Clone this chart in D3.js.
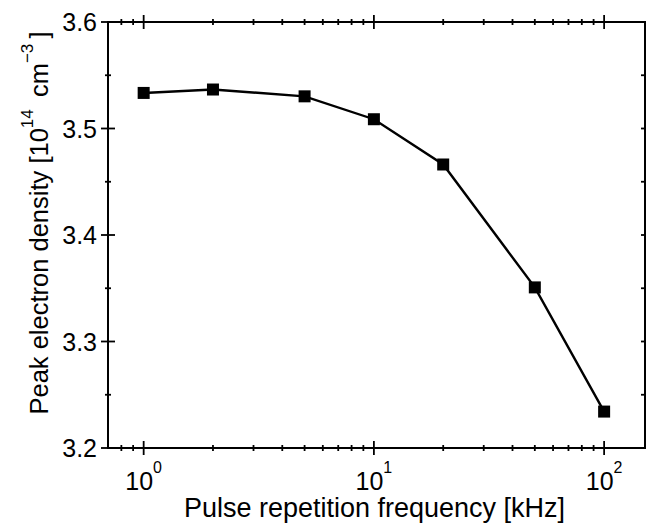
<!DOCTYPE html>
<html>
<head>
<meta charset="utf-8">
<script src="https://cdn.jsdelivr.net/npm/d3@7"></script>
<style>
  body { margin: 0; background: #fff; }
  text { font-family: "Liberation Sans", Arial, sans-serif; fill: #000; }
</style>
</head>
<body>
<div id="canvas"></div>
<script>
// --- data
var freq = [1, 2, 5, 10, 20, 50, 100];          // kHz
var density = [3.5334, 3.5366, 3.5302, 3.5087, 3.4662, 3.3508, 3.2342]; // 1e14 cm^-3
var yMajor = [3.2, 3.3, 3.4, 3.5, 3.6];
var xMajor = [1, 10, 100];
var xExp = ['0', '1', '2'];

// --- margin convention
var W = 647, H = 526;
var M = {top: 22, right: 2, bottom: 78, left: 108};
var w = W - M.left - M.right,
    h = H - M.top - M.bottom;

var svg = d3.select('#canvas').append('svg')
  .attr('width', W)
  .attr('height', H);

var plot = svg.append('g')
  .attr('transform', 'translate(' + M.left + ',' + M.top + ')');

// --- scales
var x = d3.scaleLog().domain([0.7, 150.5]).range([0, w]);
var y = d3.scaleLinear().domain([3.2, 3.6]).range([h, 0]);

var xMinor = x.ticks().filter(function(d) { return xMajor.indexOf(d) < 0 && x(d) > 1; });
var yMinor = d3.range(3.25, 3.6, 0.1);
var yRight = d3.range(3.25, 3.6, 0.05);

// frame
plot.append('rect')
  .attr('width', w).attr('height', h)
  .attr('fill', 'none').attr('stroke', '#000').attr('stroke-width', 2);

var ticks = plot.append('g').attr('stroke', '#000').attr('stroke-width', 1.8);

// bottom + top ticks (crossing the frame line)
[h, 0].forEach(function(y0) {
  ticks.selectAll(null).data(xMajor).enter().append('line')
    .attr('x1', function(d) { return x(d); }).attr('x2', function(d) { return x(d); })
    .attr('y1', y0 - 7).attr('y2', y0 + 7);
  ticks.selectAll(null).data(xMinor).enter().append('line')
    .attr('x1', function(d) { return x(d); }).attr('x2', function(d) { return x(d); })
    .attr('y1', y0 - 3).attr('y2', y0 + 3);
});

// left ticks
ticks.selectAll(null).data(yMajor).enter().append('line')
  .attr('x1', -7).attr('x2', 7)
  .attr('y1', function(d) { return y(d); }).attr('y2', function(d) { return y(d); });
ticks.selectAll(null).data(yMinor).enter().append('line')
  .attr('x1', -3).attr('x2', 3)
  .attr('y1', function(d) { return y(d); }).attr('y2', function(d) { return y(d); });

// right ticks (inward only)
ticks.selectAll(null).data(yRight).enter().append('line')
  .attr('x1', w - 4).attr('x2', w)
  .attr('y1', function(d) { return y(d); }).attr('y2', function(d) { return y(d); });

// y tick labels
plot.selectAll('.ylab').data(yMajor).enter().append('text')
  .attr('class', 'ylab')
  .attr('x', -11)
  .attr('y', function(d) { return y(d); })
  .attr('dy', '0.36em')
  .attr('text-anchor', 'end')
  .style('font-size', '25px')
  .text(function(d) { return d.toFixed(1); });

// x tick labels 10^n
var xl = plot.selectAll('.xlab').data(xMajor).enter().append('text')
  .attr('class', 'xlab')
  .attr('x', function(d) { return x(d); })
  .attr('y', h + 42)
  .attr('text-anchor', 'middle')
  .style('font-size', '25px');
xl.append('tspan').text('10');
xl.append('tspan')
  .attr('dy', -17)
  .style('font-size', '16px')
  .text(function(d, i) { return xExp[i]; });

// line + markers
var line = d3.line()
  .x(function(d, i) { return x(freq[i]); })
  .y(function(d) { return y(d); });

plot.append('path')
  .attr('d', line(density))
  .attr('fill', 'none')
  .attr('stroke', '#000')
  .attr('stroke-width', 2.4);

var s = 12;
plot.selectAll('.pt').data(density).enter().append('rect')
  .attr('class', 'pt')
  .attr('x', function(d, i) { return x(freq[i]) - s / 2; })
  .attr('y', function(d) { return y(d) - s / 2; })
  .attr('width', s).attr('height', s)
  .attr('fill', '#000');

// axis titles
svg.append('text')
  .attr('x', 374.5)
  .attr('y', 517)
  .attr('text-anchor', 'middle')
  .style('font-size', '27px')
  .text('Pulse repetition frequency [kHz]');

var yt = svg.append('text')
  .attr('transform', 'translate(48,223) rotate(-90)')
  .attr('text-anchor', 'middle')
  .style('font-size', '25.5px');
yt.append('tspan').text('Peak electron density [10');
yt.append('tspan').attr('dy', -15).style('font-size', '17px').text('14');
yt.append('tspan').attr('dy', 15).text('\u2009 cm');
yt.append('tspan').attr('dy', -15).style('font-size', '17px').text('\u22123');
yt.append('tspan').attr('dy', 15).text('\u2009]');
</script>
</body>
</html>
